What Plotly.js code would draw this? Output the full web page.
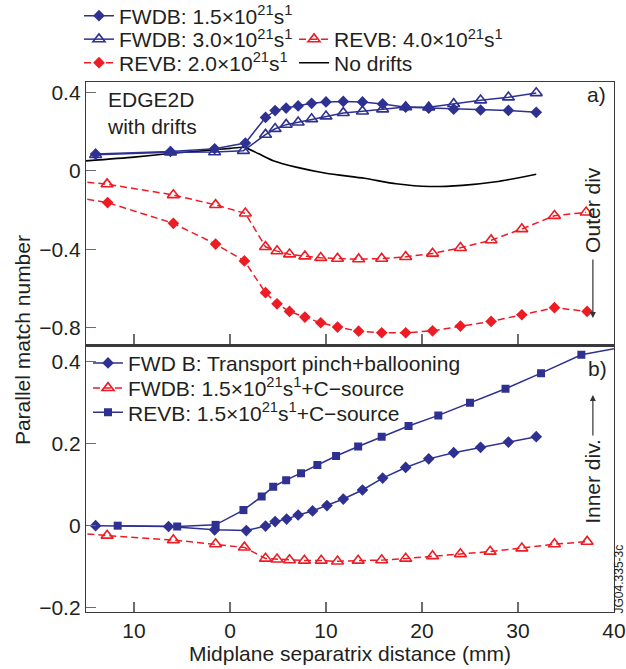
<!DOCTYPE html>
<html>
<head>
<meta charset="utf-8">
<script src="https://cdn.plot.ly/plotly-3.0.1.min.js"></script>
<style>html,body{margin:0;padding:0;background:#fff;}#chart{width:626px;height:669px;}</style>
</head>
<body>
<div id="chart"></div>
<script>
// ---- Panel a) EDGE2D with drifts ----
const xFwd15 = [-14, -6.2, -1.6, 1.6, 3.7, 4.7, 5.85, 7.1, 8.5, 10.0, 11.8, 13.8, 15.9, 18.3, 20.7, 23.3, 26.1, 29.0, 31.9];
const yFwd15 = [0.086, 0.099, 0.113, 0.142, 0.273, 0.308, 0.321, 0.332, 0.345, 0.352, 0.355, 0.352, 0.342, 0.325, 0.321, 0.315, 0.311, 0.309, 0.299];

const xFwd30 = [-14, -6.2, -1.6, 1.4, 3.7, 4.7, 5.85, 7.1, 8.5, 10.0, 11.8, 13.8, 15.9, 18.3, 20.7, 23.3, 26.1, 29.0, 31.9];
const yFwd30 = [0.082, 0.095, 0.096, 0.103, 0.185, 0.215, 0.236, 0.248, 0.265, 0.279, 0.296, 0.304, 0.315, 0.326, 0.325, 0.342, 0.361, 0.376, 0.398];

const xRev40 = [-16, -12.8, -5.9, -1.5, 1.6, 3.7, 4.9, 6.2, 7.8, 9.45, 11.2, 13.4, 15.8, 18.3, 21.1, 24.0, 27.2, 30.4, 33.8, 37.1];
const yRev40 = [-0.053, -0.068, -0.123, -0.174, -0.217, -0.388, -0.410, -0.426, -0.436, -0.444, -0.448, -0.451, -0.448, -0.439, -0.422, -0.393, -0.354, -0.297, -0.229, -0.212];

const xRev20 = [-16, -12.75, -5.9, -1.5, 1.5, 3.7, 4.9, 6.2, 7.8, 9.45, 11.2, 13.4, 15.8, 18.3, 21.1, 24.0, 27.2, 30.4, 33.8, 37.2];
const yRev20 = [-0.136, -0.162, -0.268, -0.374, -0.460, -0.622, -0.679, -0.718, -0.747, -0.776, -0.798, -0.819, -0.827, -0.827, -0.817, -0.793, -0.769, -0.735, -0.699, -0.718];

const xNoDrift = [-15, -10, -6, -2, 0, 1.5, 3, 4.5, 7, 10, 14, 17.3, 20.8, 24.2, 27.7, 31.9];
const yNoDrift = [0.051, 0.070, 0.090, 0.106, 0.115, 0.120, 0.087, 0.052, 0.018, -0.012, -0.038, -0.066, -0.080, -0.074, -0.056, -0.017];

// ---- Panel b) ----
const xPinch = [-14, -6.4, -1.6, 1.7, 3.7, 4.7, 5.9, 7.1, 8.6, 10.1, 11.8, 13.8, 15.9, 18.3, 20.7, 23.3, 26.1, 29.0, 31.9];
const yPinch = [0.0, -0.002, -0.010, -0.012, -0.001, 0.010, 0.016, 0.026, 0.036, 0.049, 0.065, 0.087, 0.116, 0.142, 0.163, 0.178, 0.191, 0.204, 0.217];

const xFwdC = [-16, -12.8, -5.9, -1.5, 1.5, 3.7, 4.9, 6.2, 7.75, 9.5, 11.2, 13.35, 15.8, 18.3, 21.1, 24.0, 27.1, 30.4, 33.8, 37.2];
const yFwdC = [-0.018, -0.024, -0.035, -0.045, -0.053, -0.080, -0.082, -0.084, -0.085, -0.085, -0.087, -0.085, -0.084, -0.080, -0.074, -0.069, -0.063, -0.055, -0.045, -0.039];

const xRevC = [-11.7, -5.5, -1.5, 1.4, 3.3, 4.5, 5.85, 7.4, 9.1, 11.05, 13.35, 15.8, 18.6, 21.7, 25.0, 28.7, 32.4, 36.6, 41];
const yRevC = [0.0, -0.002, 0.002, 0.038, 0.071, 0.095, 0.111, 0.128, 0.148, 0.170, 0.193, 0.217, 0.243, 0.269, 0.300, 0.334, 0.372, 0.417, 0.436];

// ---- Labels ----
const xTickVals = [-10, 0, 10, 20, 30, 40];
const xTickText = ['10', '0', '10', '20', '30', '40'];
const names = {
  fwd15: 'FWDB: 1.5×10<sup>21</sup>s<sup>1</sup>',
  fwd30: 'FWDB: 3.0×10<sup>21</sup>s<sup>1</sup>',
  rev40: 'REVB: 4.0×10<sup>21</sup>s<sup>1</sup>',
  rev20: 'REVB: 2.0×10<sup>21</sup>s<sup>1</sup>',
  nodrift: 'No drifts',
  pinch: 'FWD B: Transport pinch+ballooning',
  fwdC: 'FWDB: 1.5×10<sup>21</sup>s<sup>1</sup>+C−source',
  revC: 'REVB: 1.5×10<sup>21</sup>s<sup>1</sup>+C−source'
};

const blue = '#2e3192';
const red = '#ed1c24';
const ink = '#231f20';
const FONT = 'Liberation Sans, Arial, Helvetica, sans-serif';
const FS = 21;

const dashed = {color: red, width: 1.5, dash: '7px,4px'};
const solidBlue = {color: blue, width: 1.5};

const traces = [
  {x: xRev40, y: yRev40, name: names.rev40, legend: 'legend4', mode: 'lines+markers', xaxis: 'x', yaxis: 'y',
   line: dashed, marker: {symbol: 'triangle-up-open', size: 10.5, color: red, line: {width: 1.6, color: red}}},
  {x: xRev20, y: yRev20, name: names.rev20, legend: 'legend3', mode: 'lines+markers', xaxis: 'x', yaxis: 'y',
   line: dashed, marker: {symbol: 'diamond', size: 9, color: red}},
  {x: xNoDrift, y: yNoDrift, name: names.nodrift, legend: 'legend5', mode: 'lines', xaxis: 'x', yaxis: 'y',
   line: {color: '#000', width: 1.6, shape: 'spline', smoothing: 0.6}},
  {x: xFwd30, y: yFwd30, name: names.fwd30, legend: 'legend2', mode: 'lines+markers', xaxis: 'x', yaxis: 'y',
   line: solidBlue, marker: {symbol: 'triangle-up-open', size: 10.5, color: blue, line: {width: 1.6, color: blue}}},
  {x: xFwd15, y: yFwd15, name: names.fwd15, legend: 'legend', showlegend: true, mode: 'lines+markers', xaxis: 'x', yaxis: 'y',
   line: solidBlue, marker: {symbol: 'diamond', size: 9, color: blue}},

  {x: xPinch, y: yPinch, name: names.pinch, legend: 'legend6', mode: 'lines+markers', xaxis: 'x2', yaxis: 'y2',
   line: solidBlue, marker: {symbol: 'diamond', size: 9, color: blue}},
  {x: xFwdC, y: yFwdC, name: names.fwdC, legend: 'legend7', mode: 'lines+markers', xaxis: 'x2', yaxis: 'y2',
   line: dashed, marker: {symbol: 'triangle-up-open', size: 10.5, color: red, line: {width: 1.6, color: red}}},
  {x: xRevC, y: yRevC, name: names.revC, legend: 'legend8', mode: 'lines+markers', xaxis: 'x2', yaxis: 'y2',
   line: solidBlue, marker: {symbol: 'square', size: 8, color: blue}}
];

const axCommon = {
  showline: true, linecolor: '#3a3a3a', linewidth: 1.2, mirror: true,
  ticks: 'inside', tickcolor: '#6d6d6d', tickwidth: 1.2,
  zeroline: false, showgrid: false,
  tickfont: {family: FONT, size: FS, color: ink}
};

function leg(x, y) {
  return {x: x, y: y, xanchor: 'left', yanchor: 'middle', bgcolor: 'rgba(0,0,0,0)', borderwidth: 0, visible: true,
          font: {family: FONT, size: FS, color: ink}};
}

function ann(x, y, text, extra) {
  return Object.assign({xref: 'paper', yref: 'paper', x: x, y: y, xanchor: 'center', yanchor: 'middle',
    showarrow: false, text: text, font: {family: FONT, size: FS, color: ink}}, extra || {});
}

const layout = {
  width: 626, height: 669,
  showlegend: true,
  margin: {l: 86, r: 12, t: 82, b: 57, autoexpand: false},
  paper_bgcolor: '#fff', plot_bgcolor: '#fff',
  font: {family: FONT, color: ink},
  xaxis: Object.assign({}, axCommon, {anchor: 'y', domain: [0, 1], range: [-15, 40], tickvals: xTickVals, ticktext: xTickText, showticklabels: false, ticklen: 12}),
  yaxis: Object.assign({}, axCommon, {anchor: 'x', domain: [0.5025, 1], range: [-0.893, 0.454], tick0: 0, dtick: 0.4, ticklen: 10}),
  xaxis2: Object.assign({}, axCommon, {anchor: 'y2', domain: [0, 1], range: [-15, 40], tickvals: xTickVals, ticktext: xTickText, ticklen: 10,
    title: {text: 'Midplane separatrix distance (mm)', font: {family: FONT, size: FS, color: ink}, standoff: 3}}),
  yaxis2: Object.assign({}, axCommon, {anchor: 'x2', domain: [0, 0.5025], range: [-0.2105, 0.439], tick0: 0, dtick: 0.2, ticklen: 10}),
  legend: leg(-0.0133, 1.1245),
  legend2: leg(-0.0133, 1.0802),
  legend3: leg(-0.0133, 1.0358),
  legend4: leg(0.394, 1.0802),
  legend5: leg(0.394, 1.0358),
  legend6: leg(0.0038, 0.4692),
  legend7: leg(0.0038, 0.4221),
  legend8: leg(0.0038, 0.3760),
  annotations: [
    ann(0.036, 0.9925, 'EDGE2D<br>with drifts', {xanchor: 'left', yanchor: 'top', align: 'left'}),
    ann(0.966, 0.9755, 'a)'),
    ann(0.968, 0.4585, 'b)'),
    ann(0.960, 0.7585, 'Outer div', {textangle: -90}),
    {xref: 'paper', yref: 'paper', x: 0.960, y: 0.5547, showarrow: true, ax: 0, ay: -60, text: '', arrowhead: 2, arrowsize: 1, arrowwidth: 1.2, arrowcolor: '#333'},
    ann(0.960, 0.2472, 'Inner div.', {textangle: -90}),
    {xref: 'paper', yref: 'paper', x: 0.960, y: 0.4094, showarrow: true, ax: 0, ay: 42, text: '', arrowhead: 2, arrowsize: 1, arrowwidth: 1.2, arrowcolor: '#333'},
    ann(1.0085, 0.0623, 'JG04.335-3c', {textangle: -90, font: {family: FONT, size: 12, color: ink}}),
    ann(-0.1212, 0.513, 'Parallel match number', {textangle: -90})
  ],
  hovermode: false
};

Plotly.newPlot('chart', traces, layout, {staticPlot: true, displayModeBar: false});
</script>
</body>
</html>
